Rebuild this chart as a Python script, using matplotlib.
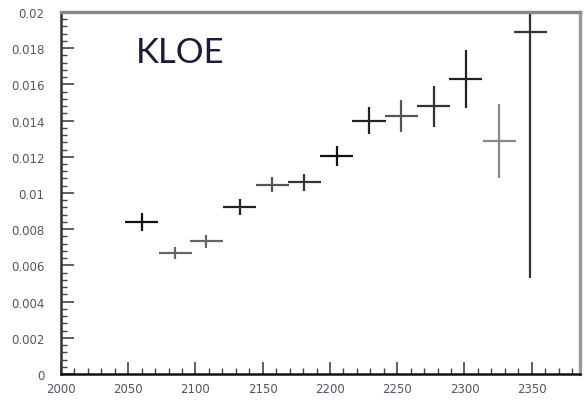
import matplotlib
matplotlib.use("Agg")
import matplotlib.pyplot as plt
from matplotlib.ticker import MultipleLocator

# dati
energy = [2060, 2085, 2108, 2133, 2157, 2181, 2205, 2229, 2253, 2277, 2301, 2326, 2349]
half_width = [12.3, 12.3, 12.3, 12.3, 12.3, 12.3, 12.3, 12.3, 12.3, 12.3, 12.3, 12.3, 12.3]
value = [0.0084, 0.00667, 0.00733, 0.00921, 0.01046, 0.01059, 0.01206,
         0.0140, 0.01424, 0.01479, 0.01628, 0.01289, 0.01891]
err = [0.0005, 0.00034, 0.00037, 0.00043, 0.00043, 0.00048, 0.00056,
       0.00072, 0.00088, 0.00112, 0.0016, 0.00205, 0.0136]
xticks = [2000, 2050, 2100, 2150, 2200, 2250, 2300, 2350]
yticks = [0, 0.002, 0.004, 0.006, 0.008, 0.01, 0.012, 0.014, 0.016, 0.018, 0.02]
ytick_labels = ["0", "0.002", "0.004", "0.006", "0.008", "0.01", "0.012",
                "0.014", "0.016", "0.018", "0.02"]

# colori dei punti (alcuni appaiono grigi nell'originale)
colors = ["#111111", "#666666", "#666666", "#222222", "#555555", "#333333", "#111111",
          "#222222", "#555555", "#333333", "#222222", "#888888", "#333333"]

fig = plt.figure(figsize=(5.86, 4.02), dpi=100)
ax = fig.add_axes([0.104, 0.067, 0.886, 0.901])

for x, xw, y, e, c in zip(energy, half_width, value, err, colors):
    ax.errorbar([x], [y], xerr=[xw], yerr=[e], fmt="none", ecolor=c,
                elinewidth=1.6, capsize=0)

ax.set_xlim(2000, 2386)
ax.set_ylim(0, 0.02)
ax.set_xticks(xticks)
ax.set_xticklabels([str(t) for t in xticks])
ax.set_yticks(yticks)
ax.set_yticklabels(ytick_labels)
ax.xaxis.set_minor_locator(MultipleLocator(10))
ax.yaxis.set_minor_locator(MultipleLocator(0.0004))

ax.tick_params(which="major", direction="in", length=9, width=1.2, color="#444444")
ax.tick_params(which="minor", direction="in", length=4.5, width=1.0, color="#444444")
ax.tick_params(axis="y", which="major", pad=12)
ax.tick_params(axis="x", which="major", pad=6)
for lab in ax.get_xticklabels() + ax.get_yticklabels():
    lab.set_family(["Liberation Sans Narrow", "DejaVu Sans"])
    lab.set_fontsize(8.5)
    lab.set_color("#555566")

ax.spines["left"].set_color("#333333")
ax.spines["left"].set_linewidth(1.8)
ax.spines["bottom"].set_color("#111111")
ax.spines["bottom"].set_linewidth(1.8)
ax.spines["top"].set_color("#888888")
ax.spines["top"].set_linewidth(2.4)
ax.spines["right"].set_color("#999999")
ax.spines["right"].set_linewidth(2.4)

ax.text(2089, 0.0178, "KLOE", fontsize=25, color="#1c1c3a",
        family=["Lato", "DejaVu Sans"], ha="center", va="center")

fig.savefig("out.png", dpi=100)
